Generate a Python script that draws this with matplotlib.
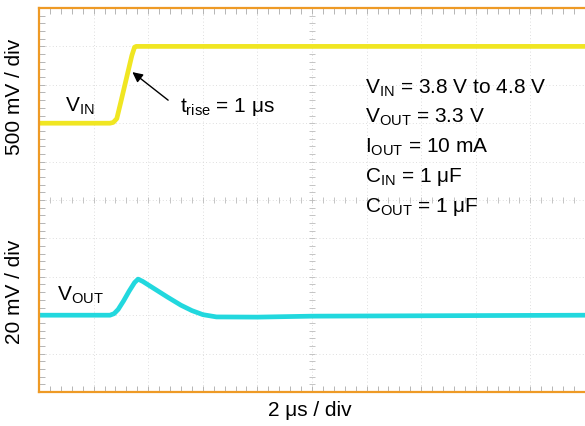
import numpy as np
import matplotlib
matplotlib.use("Agg")
import matplotlib.pyplot as plt

plt.rcParams['font.family'] = ['Liberation Sans', 'DejaVu Sans']
plt.rcParams['mathtext.fontset'] = 'custom'
plt.rcParams['mathtext.rm'] = 'Liberation Sans'

# scope traces (time in us)
vin_t = [0.0, 2.6, 2.72, 2.85, 3.0, 3.2, 3.4, 3.5, 3.56, 20.0]
vin_v = [3.8, 3.8, 3.81, 3.86, 4.08, 4.38, 4.68, 4.79, 4.8, 4.8]   # V

vout_t = [0.0, 2.6, 2.75, 2.9, 3.1, 3.3, 3.5, 3.63, 3.8, 4.2, 4.7, 5.2,
          5.6, 6.0, 6.5, 8.0, 10.0, 20.0]
vout_mv = [0.0, 0.0, 0.8, 3.0, 7.5, 12.5, 17.0, 18.8, 17.6, 14.0, 9.5,
           5.2, 2.4, 0.3, -0.9, -1.0, -0.5, 0.0]                 # mV around 3.3 V

# channel settings (volts per div, reference level, screen position in div)
vin_scale, vin_ref, vin_pos = 0.5, 3.8, 7
vout_scale, vout_ref, vout_pos = 20.0, 0.0, 2

conditions = [r'$\mathregular{V_{IN}}$ = 3.8 V to 4.8 V',
              r'$\mathregular{V_{OUT}}$ = 3.3 V',
              r'$\mathregular{I_{OUT}}$ = 10 mA',
              r'$\mathregular{C_{IN}}$ = 1 μF',
              r'$\mathregular{C_{OUT}}$ = 1 μF']

yellow = '#f0e622'
cyan = '#22d8de'
frame = '#ee9a25'

fig = plt.figure(figsize=(5.85, 4.26), dpi=100)
ax = fig.add_axes([39 / 585, 34 / 426, 546 / 585, 384 / 426])

ax.set_xlim(0, 20)
ax.set_ylim(0, 10)

# graticule
ax.set_xticks(np.arange(0, 20.1, 2))
ax.set_xticks(np.arange(0, 20.1, 0.4), minor=True)
ax.set_yticks(np.arange(0, 10.1, 1))
ax.set_yticks(np.arange(0, 10.1, 0.2), minor=True)
ax.tick_params(which='both', direction='in', length=4, width=0.6,
               color='#aaaaaa', labelbottom=False, labelleft=False,
               top=True, right=False)
ax.grid(True, which='major', color='#d4d4d4', lw=0.6, ls=(0, (1, 3)))
ax.plot(np.arange(0, 20.1, 0.4), np.full(51, 5.0), ls='none', marker='|',
        ms=4, mew=0.6, color='#bbbbbb')
ax.plot(np.full(51, 10.0), np.arange(0, 10.1, 0.2), ls='none', marker='_',
        ms=4, mew=0.6, color='#bbbbbb')

for s in ['left', 'top', 'bottom']:
    ax.spines[s].set_color(frame)
    ax.spines[s].set_linewidth(1.6)
ax.spines['right'].set_visible(False)

# traces
vin_div = vin_pos + (np.array(vin_v) - vin_ref) / vin_scale
vout_div = vout_pos + (np.array(vout_mv) - vout_ref) / vout_scale
ax.plot(vin_t, vin_div, color=yellow, lw=3.4, solid_joinstyle='round')
ax.plot(vout_t, vout_div, color=cyan, lw=3.4, solid_joinstyle='round')

# labels
ax.text(0.95, 7.3, r'$\mathregular{V_{IN}}$', fontsize=15, ha='left', va='baseline')
ax.text(0.65, 2.38, r'$\mathregular{V_{OUT}}$', fontsize=15, ha='left', va='baseline')
ax.annotate('', xy=(3.42, 8.33), xytext=(4.73, 7.6),
            arrowprops=dict(arrowstyle='-|>', color='black', lw=1.0,
                            mutation_scale=15, shrinkA=0, shrinkB=0))
ax.text(5.15, 7.3, r'$\mathregular{t_{rise}}$ = 1 μs', fontsize=15,
        ha='left', va='baseline')
for i, line in enumerate(conditions):
    ax.text(11.95, 7.78 - i * 0.77, line, fontsize=15, ha='left', va='baseline')

fig.text(15 / 585, 1 - 97 / 426, '500 mV / div', rotation=90, fontsize=15,
         ha='center', va='center')
fig.text(15 / 585, 1 - 292 / 426, '20 mV / div', rotation=90, fontsize=15,
         ha='center', va='center')
fig.text(310 / 585, 1 - 410 / 426, '2 μs / div', fontsize=15,
         ha='center', va='center')

fig.savefig('out.png', dpi=100)
